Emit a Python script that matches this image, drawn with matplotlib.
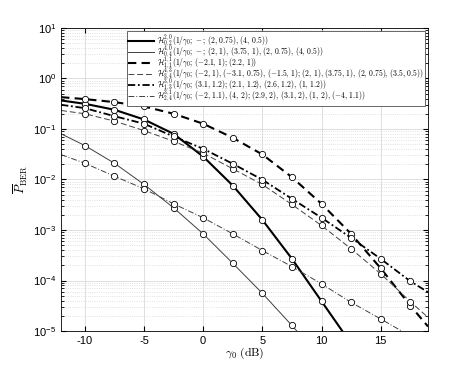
import numpy as np
import matplotlib
matplotlib.use('Agg')
import matplotlib.pyplot as plt

plt.rcParams['font.family'] = ['Liberation Sans', 'DejaVu Sans']
plt.rcParams['mathtext.fontset'] = 'cm'
plt.rcParams['axes.unicode_minus'] = False

# marker positions (dB) and curve values
x_h20 = [-12, -10, -7.5, -5, -2.5, 0, 2.5, 5, 7.5, 10, 12]
y_h20 = [0.366, 0.315, 0.24, 0.154, 0.080, 0.0285, 7.6e-3, 1.59e-3, 2.7e-4, 3.9e-5, 8.3e-6]

x_h40 = [-12, -10, -7.5, -5, -2.5, 0, 2.5, 5, 7.5, 8.5]
y_h40 = [0.080, 0.047, 0.021, 0.008, 2.75e-3, 8.4e-4, 2.2e-4, 5.6e-5, 1.29e-5, 7e-6]

x_h11 = [-12, -10, -7.5, -5, -2.5, 0, 2.5, 5, 7.5, 10, 12.5, 15, 17.5, 19]
y_h11 = [0.426, 0.39, 0.34, 0.279, 0.20, 0.127, 0.067, 0.0313, 0.0111, 3.3e-3, 8.4e-4, 1.75e-4, 3.2e-5, 1.23e-5]

x_h43 = [-12, -10, -7.5, -5, -2.5, 0, 2.5, 5, 7.5, 10, 12.5, 15, 17.5, 19]
y_h43 = [0.232, 0.20, 0.143, 0.093, 0.057, 0.0332, 0.0163, 7.96e-3, 3.2e-3, 1.23e-3, 4.25e-4, 1.36e-4, 3.84e-5, 1.86e-5]

x_h30 = [-12, -10, -7.5, -5, -2.5, 0, 2.5, 5, 7.5, 10, 12.5, 15, 17.5, 19]
y_h30 = [0.301, 0.258, 0.179, 0.127, 0.071, 0.0405, 0.0205, 9.9e-3, 4.15e-3, 1.75e-3, 7.0e-4, 2.69e-4, 9.7e-5, 5.9e-5]

x_h31 = [-12, -10, -7.5, -5, -2.5, 0, 2.5, 5, 7.5, 10, 12.5, 15, 17.5]
y_h31 = [0.031, 0.021, 0.0116, 6.55e-3, 3.3e-3, 1.75e-3, 8.4e-4, 3.93e-4, 1.89e-4, 8.6e-5, 3.7e-5, 1.74e-5, 8e-6]

labels = [
    r'$\mathcal{H}^{2,0}_{0,2}(1/\gamma_0;\,-;\,(2,\,0.75),\,(4,\,0.5))$',
    r'$\mathcal{H}^{4,0}_{0,4}(1/\gamma_0;\,-;\,(2,\,1),\,(3.75,\,1),\,(2,\,0.75),\,(4,\,0.5))$',
    r'$\mathcal{H}^{1,1}_{1,1}(1/\gamma_0;\,(-2.1,\,1);\,(2.2,\,1))$',
    r'$\mathcal{H}^{4,3}_{3,4}(1/\gamma_0;\,(-2,\,1),\,(-3.1,\,0.75),\,(-1.5,\,1);\,(2,\,1),\,(3.75,\,1),\,(2,\,0.75),\,(3.5,\,0.5))$',
    r'$\mathcal{H}^{3,0}_{1,3}(1/\gamma_0;\,(3.1,\,1.2);\,(2.1,\,1.2),\,(2.6,\,1.2),\,(1,\,1.2))$',
    r'$\mathcal{H}^{3,1}_{2,4}(1/\gamma_0;\,(-2,\,1.1),\,(4,\,2);\,(2.9,\,2),\,(3.1,\,2),\,(1,\,2),\,(-4,\,1.1))$',
]

series = [
    (x_h20, y_h20, '-', 1.5, 'k'),
    (x_h40, y_h40, '-', 0.7, '0.25'),
    (x_h11, y_h11, (0, (4, 2.5)), 1.5, 'k'),
    (x_h43, y_h43, (0, (6, 3)), 0.7, '0.25'),
    (x_h30, y_h30, (0, (4, 1.5, 1, 1.5)), 1.3, 'k'),
    (x_h31, y_h31, (0, (6, 2, 1, 2)), 0.7, '0.25'),
]

fig = plt.figure(figsize=(4.74, 3.72), dpi=100)
ax = fig.add_axes([0.129, 0.110, 0.774, 0.815])

for (xs, ys, ls, lw, c), lab in zip(series, labels):
    xs = np.array(xs)
    ys = np.array(ys)
    ax.semilogy(xs, ys, linestyle=ls, linewidth=lw, color=c, label=lab)
    mk = (np.abs(xs / 2.5 - np.round(xs / 2.5)) < 1e-9) & (xs >= -10) & (ys >= 1e-5)
    ax.semilogy(xs[mk], ys[mk], linestyle='none', marker='o', markersize=4.5,
                markerfacecolor='white', markeredgecolor='k', markeredgewidth=0.6)

ax.set_xlim(-12, 19)
ax.set_ylim(1e-5, 10)
ax.set_xticks([-10, -5, 0, 5, 10, 15])
ax.grid(True, which='major', color='0.85', linewidth=0.6)
ax.grid(True, which='minor', axis='y', color='0.85', linestyle=':', linewidth=0.6)
ax.tick_params(which='both', direction='in', top=True, right=True, labelsize=8)
ax.tick_params(axis='x', which='minor', bottom=False, top=False)
for s in ax.spines.values():
    s.set_linewidth(0.6)
ax.set_axisbelow(True)

ax.set_xlabel(r'$\gamma_0\ \mathrm{(dB)}$', fontsize=8.5, labelpad=0)
ax.set_ylabel(r'$\overline{P}_{\mathrm{BER}}$', fontsize=9, labelpad=2)

leg = ax.legend(loc='upper right', fontsize=5.5, handlelength=3.3, labelspacing=-0.75,
                borderpad=0.2, handletextpad=0.4, fancybox=False, framealpha=1,
                edgecolor='0.3', borderaxespad=0.4)
leg.get_frame().set_linewidth(0.6)

fig.savefig('out.png', dpi=100)
